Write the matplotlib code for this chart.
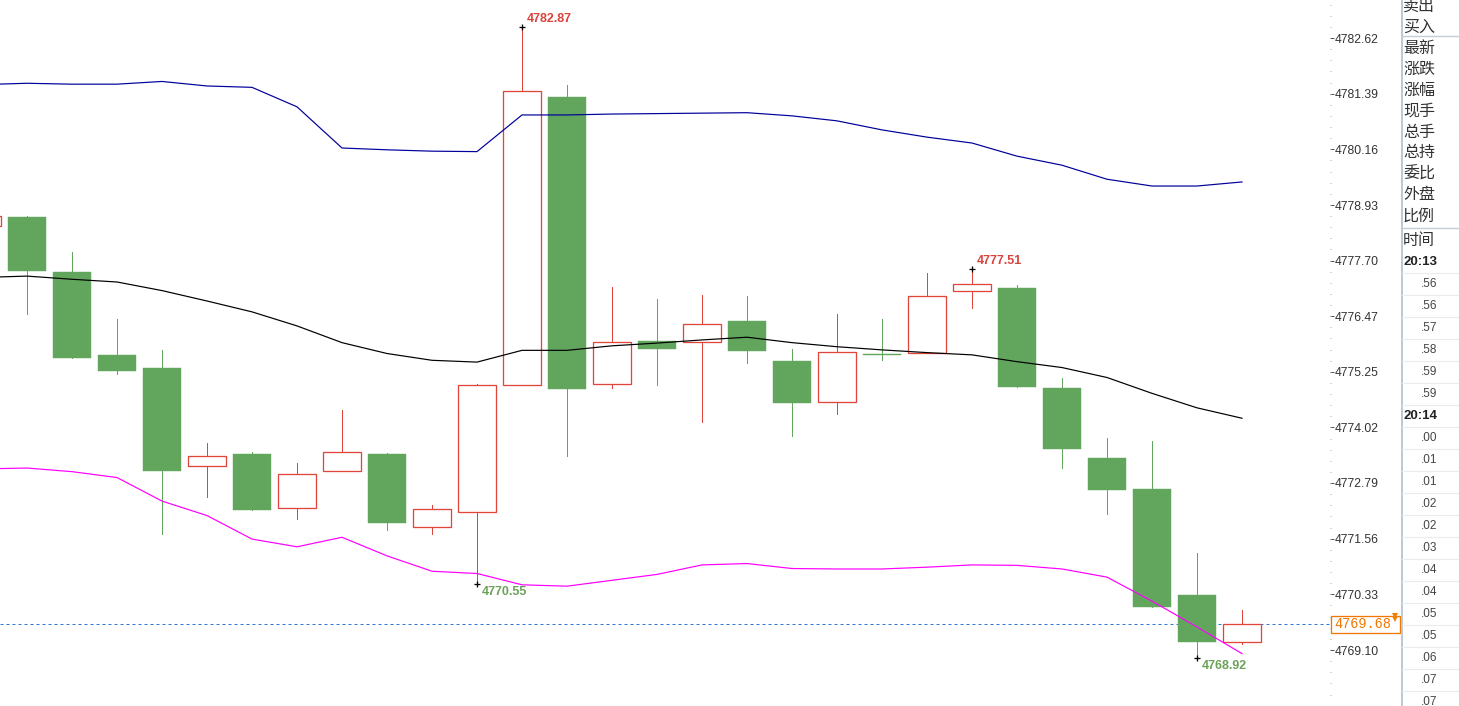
import numpy as np
import matplotlib
matplotlib.use("Agg")
import matplotlib.pyplot as plt
import matplotlib.transforms as mtransforms
from matplotlib.patches import Rectangle

# 1-minute candles, oldest first (the first one is cut by the left edge)
opens = [4778.47, 4778.67, 4777.45, 4775.62, 4775.33, 4773.16, 4773.43, 4772.24, 4773.05, 4773.43,
         4771.82, 4772.15, 4774.95, 4781.32, 4774.98, 4775.93, 4775.90, 4776.37, 4775.48, 4774.58,
         4775.64, 4775.66, 4777.02, 4777.10, 4774.89, 4773.34, 4772.66, 4770.32, 4769.28]
highs = [4778.69, 4778.69, 4777.89, 4776.41, 4775.73, 4773.67, 4773.47, 4773.23, 4774.40, 4773.45,
         4772.30, 4774.98, 4782.87, 4781.58, 4777.12, 4776.85, 4776.94, 4776.92, 4775.75, 4776.52,
         4776.41, 4777.43, 4777.51, 4777.16, 4775.11, 4773.78, 4773.72, 4771.24, 4769.98]
lows = [4778.47, 4776.53, 4775.55, 4775.20, 4771.67, 4772.49, 4772.19, 4772.00, 4773.05, 4771.76,
        4771.67, 4770.55, 4774.95, 4773.39, 4774.89, 4774.96, 4774.14, 4775.45, 4773.83, 4774.32,
        4775.51, 4775.66, 4776.66, 4774.91, 4773.13, 4772.11, 4770.05, 4768.92, 4769.23]
closes = [4778.69, 4777.48, 4775.56, 4775.27, 4773.06, 4773.39, 4772.20, 4772.99, 4773.47, 4771.91,
          4772.21, 4774.95, 4781.45, 4774.87, 4775.90, 4775.76, 4776.30, 4775.71, 4774.56, 4775.68,
          4775.62, 4776.92, 4777.19, 4774.92, 4773.55, 4772.64, 4770.05, 4769.28, 4769.68]

# bollinger bands
upper = [4781.59, 4781.62, 4781.60, 4781.60, 4781.66, 4781.56, 4781.53, 4781.10, 4780.19, 4780.15,
         4780.12, 4780.11, 4780.92, 4780.92, 4780.94, 4780.95, 4780.96, 4780.97, 4780.90, 4780.79,
         4780.59, 4780.43, 4780.30, 4780.01, 4779.81, 4779.50, 4779.35, 4779.35, 4779.44]
middle = [4777.33, 4777.36, 4777.29, 4777.23, 4777.04, 4776.81, 4776.57, 4776.26, 4775.89, 4775.65,
          4775.50, 4775.46, 4775.72, 4775.72, 4775.82, 4775.88, 4775.95, 4776.01, 4775.89, 4775.80,
          4775.73, 4775.67, 4775.62, 4775.47, 4775.34, 4775.12, 4774.77, 4774.45, 4774.22]
lower = [4773.10, 4773.12, 4773.04, 4772.91, 4772.39, 4772.07, 4771.55, 4771.38, 4771.59, 4771.18,
         4770.84, 4770.79, 4770.54, 4770.51, 4770.64, 4770.77, 4770.98, 4771.01, 4770.90, 4770.89,
         4770.89, 4770.93, 4770.98, 4770.97, 4770.89, 4770.71, 4770.18, 4769.61, 4769.02]

tick_labels = ["4769.10", "4770.33", "4771.56", "4772.79", "4774.02", "4775.25",
               "4776.47", "4777.70", "4778.93", "4780.16", "4781.39", "4782.62"]
last_price = 4769.68
high_marks = [12, 22]   # candles whose high gets a label
low_marks = [11, 27]

# side panel text
panel_top = ["卖出", "买入"]
panel_mid = ["最新", "涨跌", "涨幅", "现手", "总手", "总持", "委比", "外盘", "比例"]
panel_times = ["20:13", ".56", ".56", ".57", ".58", ".59", ".59", "20:14", ".00", ".01", ".01",
               ".02", ".02", ".03", ".04", ".04", ".05", ".05", ".06", ".07", ".07"]

RED = "#e0453c"
GREEN = "#62a65e"
PX = 0.72  # one pixel in points at dpi 100

W, H = 1459, 706
fig = plt.figure(figsize=(W / 100, H / 100), dpi=100)
fig.patch.set_facecolor("white")

ax = fig.add_axes([0, 0, 1330 / W, 1])
x = np.arange(len(opens))
bw = 38 / 45

for i in x:
    o, h, l, c = opens[i], highs[i], lows[i], closes[i]
    top, bot = max(o, c), min(o, c)
    if c > o:
        ax.plot([i, i], [top, h], color=RED, lw=PX, zorder=2)
        ax.plot([i, i], [l, bot], color=RED, lw=PX, zorder=2)
        ax.add_patch(Rectangle((i - bw / 2, bot), bw, top - bot, facecolor="white",
                               edgecolor=RED, lw=PX * 1.3, zorder=3))
    else:
        ax.plot([i, i], [l, h], color=GREEN, lw=PX, zorder=2)
        ax.add_patch(Rectangle((i - bw / 2, bot), bw, max(top - bot, 0.02),
                               facecolor=GREEN, edgecolor=GREEN, lw=0.3, zorder=3))

ax.plot(x, upper, color="#00009a", lw=PX * 1.2, zorder=4)
ax.plot(x, middle, color="black", lw=PX * 1.2, zorder=4)
ax.plot(x, lower, color="#ff00ff", lw=PX * 1.2, zorder=4)

ax.axhline(last_price, color="#2f7bd6", lw=PX, ls=(0, (3, 3)), zorder=1)

for i in high_marks:
    ax.plot(i, highs[i], marker="+", ms=5, mew=PX * 1.3, color="black", zorder=5)
    ax.annotate(f"{highs[i]:.2f}", (i, highs[i]), xytext=(3.6, 1.4), textcoords="offset points",
                ha="left", va="bottom", color="#d9433b", fontsize=9, fontweight="bold",
                family="Liberation Sans")
for i in low_marks:
    ax.plot(i, lows[i], marker="+", ms=5, mew=PX * 1.3, color="black", zorder=5)
    ax.annotate(f"{lows[i]:.2f}", (i, lows[i]), xytext=(3.6, -1.4), textcoords="offset points",
                ha="left", va="top", color="#6ba25a", fontsize=9, fontweight="bold",
                family="Liberation Sans")

# price axis on the right
for s in ax.spines.values():
    s.set_visible(False)
ax.set_xticks([])
ax.yaxis.tick_right()
ticks = [float(t) for t in tick_labels]
ax.set_yticks(ticks)
ax.set_yticklabels(tick_labels, fontsize=8.7, color="#333333", family="Liberation Sans")
step = (ticks[-1] - ticks[0]) / (len(ticks) - 1)
minors = [ticks[0] + step * k / 5 for k in range(-6, 5 * (len(ticks) - 1) + 4)]
ax.set_yticks(minors, minor=True)
ax.tick_params(axis="y", which="major", length=3, width=PX, color="#555555", pad=0.5)
ax.tick_params(axis="y", which="minor", length=1, width=PX, color="#aaaaaa")
ax.set_xlim(0.4, 29.9556)
ax.set_ylim(4767.863, 4783.4595)

# last price box
k = (4783.4595 - 4767.863) / H  # price per pixel
tr = mtransforms.blended_transform_factory(ax.transAxes, ax.transData)
ax.add_patch(Rectangle((1331 / 1330, last_price - 9 * k), 69 / 1330, 17 * k, transform=tr,
                       facecolor="white", edgecolor="#f07800", lw=PX * 1.3, clip_on=False,
                       zorder=6))
ax.text(1334 / 1330, last_price - 0.5 * k, "4769.68", transform=tr, ha="left", va="center",
        fontsize=9.8, color="#f07800", family="Liberation Mono", clip_on=False, zorder=7)
ax.plot([1395 / 1330], [last_price + 4.5 * k], marker="v", ms=4.5, color="#f08000",
        transform=tr, clip_on=False, zorder=7, mew=0)
ax.plot([1395 / 1330], [last_price + 7.5 * k], marker="v", ms=4.5, color="#f08000",
        transform=tr, clip_on=False, zorder=7, mew=0)

# side panel
pan = fig.add_axes([1401 / W, 0, 58 / W, 1])
pan.set_xlim(0, 58)
pan.set_ylim(H, 0)
pan.axis("off")
pan.axvline(0.5, color="#b8c4d2", lw=1.3)
cjk = ["Noto Sans CJK SC", "DejaVu Sans"]
for j, t in enumerate(panel_top):
    pan.text(2, 6 + 21 * j, t, fontsize=11.5, family=cjk, color="#333333", va="center", ha="left")
pan.plot([0, 58], [36, 36], color="#c4ccd6", lw=1)
for j, t in enumerate(panel_mid):
    pan.text(2, 48 + 21 * j, t, fontsize=11.5, family=cjk, color="#333333", va="center", ha="left")
pan.plot([0, 58], [228, 228], color="#c4ccd6", lw=1)
pan.text(2, 240, "时间", fontsize=11.5, family=cjk, color="#333333", va="center", ha="left")
for j, t in enumerate(panel_times):
    y = 262 + 22 * j
    if ":" in t:
        pan.text(2, y, t, fontsize=9.5, fontweight="bold", family="Liberation Sans",
                 color="#222222", va="center", ha="left")
    else:
        pan.text(36, y, t, fontsize=8.5, family="Liberation Sans", color="#444444",
                 va="center", ha="right")
for j in range(20):
    y = 272.7 + 22 * j
    pan.plot([1, 58], [y, y], color="#ececec", lw=0.8)

fig.savefig("out.png", dpi=100, facecolor="white")
